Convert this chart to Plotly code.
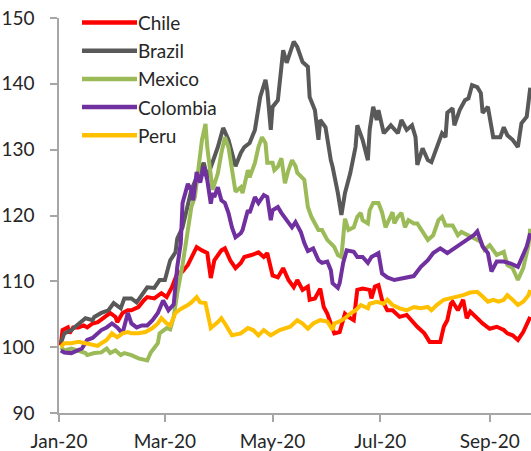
import pandas as pd
import plotly.graph_objects as go

# Days since 1 Jan 2020 and index values (start = 100)
brazil_days = [1,3,7,11,15,19,20,24,28,31,35,37,41,44,47,50,54,57,60,63,66,67,70,73,75,79,82,84,87,90,93,96,100,103,105,108,111,114,117,118,120,121,124,127,129,133,135,138,141,142,145,147,148,151,154,155,158,160,162,165,168,169,172,175,176,178,180,181,184,188,192,194,197,200,202,203,206,209,211,214,217,219,220,223,224,227,230,232,234,237,239,240,243,246,250,252,254,257,260,262,265,267]
brazil_vals = [100.6,102.1,102.6,103.6,104.4,104.1,104.6,105.2,105.6,106.7,105.9,107.4,107.4,106.8,107.9,109.1,109.0,110.2,110.2,113.2,114.4,116.5,118.2,121.5,123.9,126.4,128.0,125.8,128.0,130.4,133.3,131.5,127.5,129.5,130.4,131.0,133.0,138.0,140.6,139.0,133.0,136.5,137.5,145.1,143.2,146.4,145.6,143.3,142.6,138.0,136.0,131.5,134.5,133.4,128.4,127.4,123.4,120.1,123.4,126.4,130.4,133.7,131.5,128.4,133.0,136.5,134.5,136.0,132.5,133.7,132.5,134.5,133.0,133.7,131.9,127.7,130.2,128.4,128.1,130.4,132.5,131.9,135.6,136.3,133.7,136.0,137.5,137.8,139.8,139.5,138.6,135.6,136.5,131.9,131.9,133.4,132.2,131.5,130.4,134.0,135.0,139.4]

chile_days = [1,2,5,6,8,11,14,16,19,22,26,29,32,33,36,39,41,45,48,50,54,58,61,64,67,70,73,75,78,81,84,86,88,92,94,97,100,103,105,109,113,116,118,121,124,127,130,133,135,138,141,142,145,148,150,152,155,156,159,162,164,167,169,172,176,177,179,181,183,186,189,193,197,201,203,207,210,216,218,220,222,223,226,229,231,233,236,240,244,248,252,254,257,260,263,266,267]
chile_vals = [100.3,102.6,103.0,102.1,103.0,103.0,103.3,103.0,103.6,103.8,104.6,105.2,104.6,103.8,105.2,105.6,105.6,106.1,107.1,107.6,107.4,108.2,107.6,109.1,111.2,111.5,112.5,113.7,115.2,114.7,114.3,110.5,113.2,114.7,115.0,113.2,112.0,112.8,113.7,114.0,114.4,113.7,114.3,110.9,110.6,112.0,110.2,109.1,110.2,108.7,109.2,107.2,107.4,108.9,106.1,105.1,103.1,102.1,102.3,105.1,104.6,104.1,108.7,108.9,108.7,107.4,109.2,109.4,107.2,105.6,105.6,104.6,104.9,103.6,103.1,102.1,100.8,100.8,103.1,104.1,106.6,106.9,105.6,107.2,104.4,105.4,104.6,103.6,102.8,103.1,102.6,102.1,101.8,101.1,102.3,104.1,104.6]

mexico_days = [1,3,7,11,15,16,20,24,27,29,32,35,37,41,45,50,52,56,57,61,63,65,67,70,73,75,77,79,81,83,84,87,88,90,92,94,96,98,100,103,104,107,108,111,113,115,117,118,121,122,124,126,128,130,132,134,135,139,141,143,145,147,149,151,152,155,156,158,160,162,164,167,169,171,172,175,176,178,181,183,185,186,189,190,192,194,196,198,201,203,206,209,212,215,217,219,223,226,228,232,236,239,241,244,248,252,254,257,260,263,266,267]
mexico_vals = [100.0,99.5,99.8,99.5,99.1,98.8,99.1,99.2,99.8,99.1,99.5,98.8,99.1,98.8,98.3,98.0,99.2,100.6,102.1,102.9,102.7,104.6,108.2,112.5,117.8,121.3,122.8,126.9,131.5,133.9,130.4,123.9,124.9,126.4,129.5,131.9,130.4,127.4,123.6,124.3,123.4,126.9,125.8,128.0,130.4,131.9,131.0,128.0,128.0,126.9,127.4,128.7,124.9,126.9,128.4,127.5,126.5,125.4,121.3,119.8,118.8,117.8,117.8,116.7,116.3,115.5,115.2,114.0,113.7,119.5,117.8,118.2,119.8,120.4,119.3,118.8,120.8,121.9,121.9,120.5,118.2,118.8,120.5,118.8,119.8,120.4,118.2,119.3,118.8,118.8,117.5,116.3,117.0,119.3,119.8,118.5,118.5,117.0,117.5,117.0,116.5,116.0,114.8,115.5,114.0,114.5,112.5,112.0,110.2,112.0,115.5,118.0]

colombia_days = [1,3,7,10,13,16,19,22,24,27,30,33,36,39,41,44,47,50,53,56,59,62,65,67,69,70,73,75,76,78,80,82,84,86,87,88,90,92,94,96,98,100,103,104,107,108,111,113,116,118,120,121,124,126,128,130,132,134,137,139,141,144,147,149,152,154,155,158,159,161,163,167,169,172,175,177,181,183,186,190,194,198,201,205,209,212,216,220,223,227,231,235,237,240,243,245,248,252,256,260,262,265,267]
colombia_vals = [99.5,99.2,99.1,99.5,99.8,101.1,101.4,102.1,102.6,103.0,103.6,103.0,102.1,105.2,103.6,103.0,103.3,103.3,104.1,105.2,107.1,105.6,106.5,112.2,115.8,121.9,124.8,123.8,122.3,126.6,125.0,127.4,125.4,121.8,123.4,122.8,124.3,122.3,121.9,120.4,118.2,116.7,117.3,117.8,120.8,120.4,122.8,121.9,123.1,122.8,119.3,120.8,121.3,120.4,119.6,118.8,118.2,119.0,117.5,115.8,114.6,115.0,113.2,112.8,113.0,111.7,109.7,109.0,109.7,112.8,114.7,114.5,113.7,113.7,112.8,113.7,114.3,111.2,110.6,110.2,110.4,110.7,110.8,112.2,113.2,114.3,115.0,114.3,114.8,115.5,116.3,117.0,117.6,115.3,114.3,111.5,113.0,113.0,112.7,112.2,113.5,115.3,117.3]

peru_days = [1,3,7,11,15,19,22,24,27,30,33,36,39,41,45,49,53,56,58,61,63,66,69,73,75,78,80,83,86,90,92,94,98,103,107,110,113,116,120,125,131,135,138,141,144,148,152,155,156,159,162,165,168,171,175,176,180,184,186,189,193,197,201,205,209,211,214,218,222,226,229,233,237,240,243,246,249,252,254,257,260,263,266,267]
peru_vals = [100.0,100.6,100.6,100.8,100.6,100.3,100.2,100.6,101.1,102.1,101.5,102.1,102.3,102.1,102.1,102.3,102.9,103.6,104.4,103.6,103.3,105.2,105.8,106.4,106.8,107.6,106.8,106.7,102.9,103.8,104.4,103.6,101.8,102.1,102.9,102.6,101.8,102.6,101.8,102.6,103.1,104.1,103.6,102.8,103.6,104.1,103.9,102.6,103.6,103.9,104.4,105.1,105.6,106.4,105.9,106.6,106.9,106.6,107.2,106.4,105.9,105.6,106.1,105.9,106.1,105.6,106.4,107.2,107.4,107.7,107.9,108.3,108.4,107.7,106.9,107.2,106.9,107.2,107.9,107.2,106.4,106.9,107.9,108.7]

series_names = ["Chile", "Brazil", "Mexico", "Colombia", "Peru"]
series_colors = ["#FF0000", "#595959", "#9BBB59", "#7030A0", "#FFC000"]
series_days = [chile_days, brazil_days, mexico_days, colombia_days, peru_days]
series_vals = [chile_vals, brazil_vals, mexico_vals, colombia_vals, peru_vals]

y_ticks = [90, 100, 110, 120, 130, 140, 150]
x_ticks = ["2020-01-01", "2020-03-01", "2020-05-01", "2020-07-01", "2020-09-01"]

start = pd.Timestamp("2020-01-01")
FONT = "Lato"
FONT_SIZE = 19
AXIS_GRAY = "#A6A6A6"
TEXT = "#262626"

# Layout geometry (pixels) for the figure and the in-plot legend
W, H = 531, 451
M_L, M_R, M_T, M_B = 59, 0, 18, 38
PLOT_W = W - M_L - M_R
PLOT_H = H - M_T - M_B
LEG_X0, LEG_X1, LEG_TEXT_X = 82, 137, 137
LEG_Y0, LEG_DY = 22.5, 28.2

def px_to_paper_x(px):
    return (px - M_L) / PLOT_W

def px_to_paper_y(py):
    return (H - M_B - py) / PLOT_H

fig = go.Figure()
for name, color, days, vals in zip(series_names, series_colors, series_days, series_vals):
    dates = start + pd.to_timedelta(days, unit="D")
    fig.add_trace(go.Scatter(
        x=dates, y=vals, name=name, mode="lines",
        line=dict(color=color, width=4),
        showlegend=False,
    ))

shapes = []
annotations = []
for i, (name, color) in enumerate(zip(series_names, series_colors)):
    yy = px_to_paper_y(LEG_Y0 + i * LEG_DY)
    shapes.append(dict(
        type="line", xref="paper", yref="paper",
        x0=px_to_paper_x(LEG_X0), x1=px_to_paper_x(LEG_X1), y0=yy, y1=yy,
        line=dict(color=color, width=4.5), layer="above",
    ))
    annotations.append(dict(
        text=name, xref="paper", yref="paper",
        x=px_to_paper_x(LEG_TEXT_X), y=yy, xanchor="left", yanchor="middle",
        showarrow=False, borderpad=0,
        font=dict(family=FONT, size=FONT_SIZE, color=TEXT),
    ))

fig.update_layout(
    width=W, height=H,
    margin=dict(l=M_L, r=M_R, t=M_T, b=M_B),
    paper_bgcolor="white", plot_bgcolor="white",
    font=dict(family=FONT, size=FONT_SIZE, color=TEXT),
    showlegend=False,
    shapes=shapes,
    annotations=annotations,
    xaxis=dict(
        type="date",
        range=["2020-01-01", "2020-09-24 10:00"],
        tickvals=x_ticks, tickformat="%b-%y",
        showline=True, linecolor=AXIS_GRAY, linewidth=1.5,
        ticks="outside", ticklen=7, tickwidth=1.5, tickcolor=AXIS_GRAY,
        showgrid=False, zeroline=False,
        ticklabelstandoff=3,
    ),
    yaxis=dict(
        range=[90, 150], tickvals=y_ticks,
        showline=True, linecolor=AXIS_GRAY, linewidth=1.5,
        ticks="outside", ticklen=7, tickwidth=1.5, tickcolor=AXIS_GRAY,
        showgrid=False, zeroline=False,
        ticklabelstandoff=12,
    ),
)

fig.write_html("out.html")
